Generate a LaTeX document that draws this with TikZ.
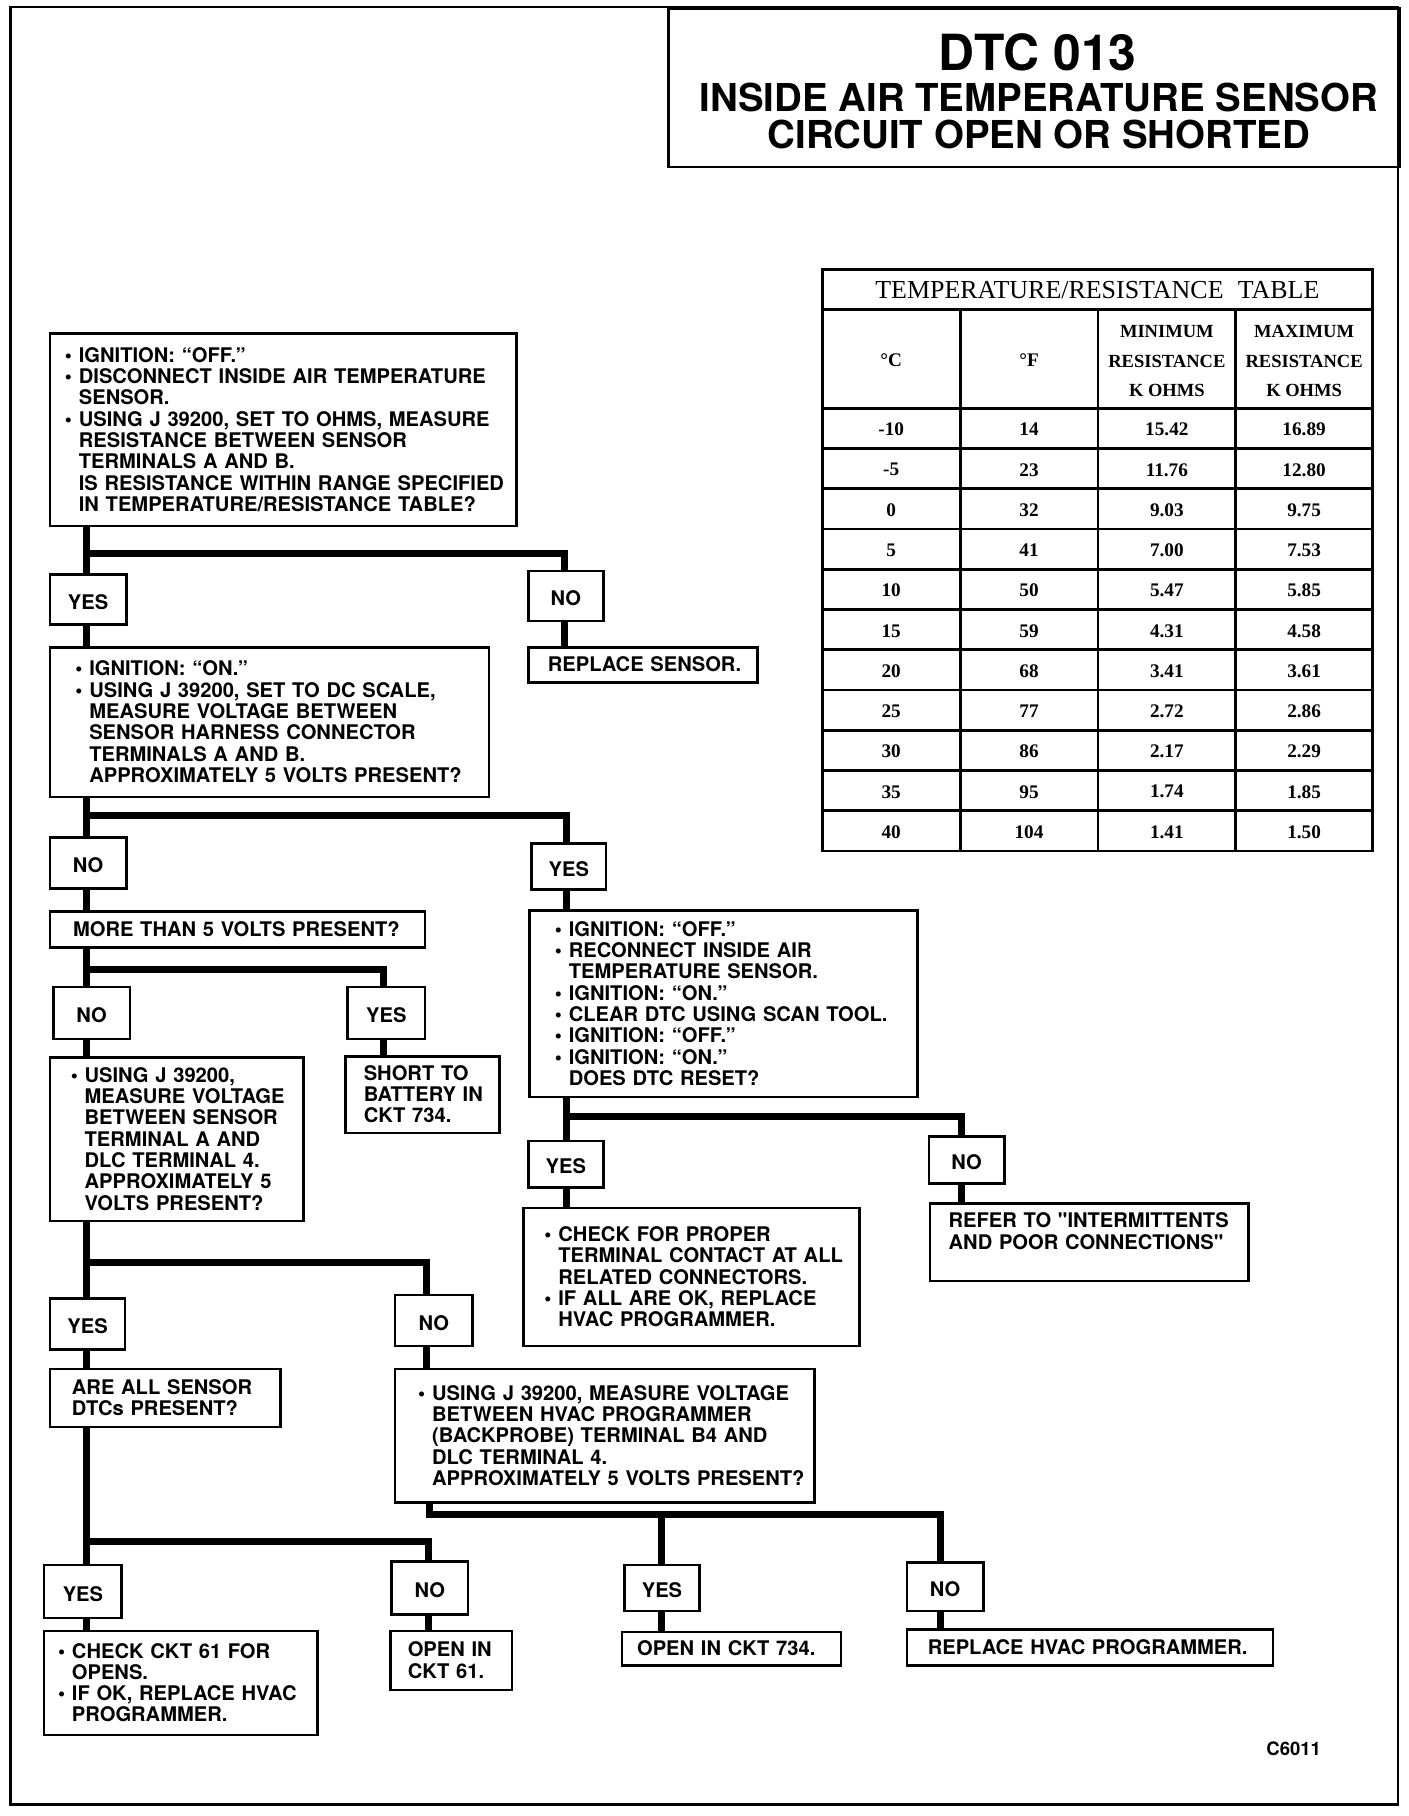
\documentclass[tikz,border=0pt]{standalone}
\usepackage{fontspec}
\newfontfamily\heros{TeX Gyre Heros}
\newfontfamily\serifT{Liberation Serif}
\usetikzlibrary{calc}
\tikzset{
  box/.style={draw, line width=1.1pt, anchor=north west, inner sep=0pt, align=left,
    font=\heros\bfseries\fontsize{8.7pt}{9.2pt}\selectfont},
  ynbox/.style={draw, line width=1.1pt, anchor=north west, inner sep=0pt, align=center,
    font=\heros\bfseries\fontsize{8.7pt}{9.2pt}\selectfont},
  conn/.style={line width=3pt, line join=miter},
  tline/.style={line width=1.2pt},
  tcell/.style={font=\serifT\bfseries\fontsize{8.3pt}{10pt}\selectfont, inner sep=0pt},
  thead/.style={font=\serifT\bfseries\fontsize{8pt}{12.75pt}\selectfont, inner sep=0pt, align=center},
}
\newcommand\bul{\makebox[6pt][l]{\textbullet}}
\newcommand\ind{\hspace*{6pt}}
\newcommand\flowbox[7]{%
  \pgfmathsetlengthmacro\fbw{(#4-#2)*0.5pt}%
  \pgfmathsetlengthmacro\fbh{(#5-#3)*0.5pt}%
  \pgfmathsetlengthmacro\fbi{#6*0.5pt}%
  \node[box, text width=\fbw, minimum height=\fbh] (#1) at (#2,#3)
    {\noindent\raisebox{-1.2pt}[\height][\depth]{\begin{tabular}{@{\hspace{\fbi}}l@{}}#7\end{tabular}}};}
\newcommand\ynb[6]{%
  \pgfmathsetlengthmacro\fbw{(#4-#2)*0.5pt}%
  \pgfmathsetlengthmacro\fbh{(#5-#3)*0.5pt}%
  \node[ynbox, minimum width=\fbw, minimum height=\fbh] (#1) at (#2,#3) {\raisebox{-1pt}[\height][\depth]{#6}};}
\begin{document}
\begin{tikzpicture}[x=0.5pt,y=-0.5pt]
\useasboundingbox (0,0) rectangle (1216,1568);
% page frame and title
\draw[line width=1.2pt] (9,6) rectangle (1207,1558);
\node[draw, line width=1.2pt, anchor=north west, inner sep=0pt, minimum width=315.5pt, minimum height=68.5pt] (titlebox) at (576,6) {};
\node[font=\heros\bfseries\fontsize{21.5pt}{24pt}\selectfont, inner sep=0pt] (t1) at (896,45) {DTC 013};
\node[font=\heros\bfseries\fontsize{16.6pt}{18pt}\selectfont, inner sep=0pt] (t2) at (897,84) {INSIDE AIR TEMPERATURE SENSOR};
\node[font=\heros\bfseries\fontsize{16.6pt}{18pt}\selectfont, inner sep=0pt] (t3) at (897,116) {CIRCUIT OPEN OR SHORTED};

% table
\draw[tline] (710,233) rectangle (1185,734.75);
\draw[tline] (710,267) -- (1185,267);
\foreach \k in {0,...,10} \draw[tline] (710,{352.5+34.75*\k}) -- (1185,{352.5+34.75*\k});
\foreach \xx in {829,948,1067} \draw[tline] (\xx,267) -- (\xx,734.75);
\node[font=\serifT\fontsize{11.2pt}{12pt}\selectfont, inner sep=0pt] (ttitle) at (947.5,250) {TEMPERATURE/RESISTANCE\hspace{0.55em}TABLE};
\node[tcell] (hC) at (769.5,311) {°C};
\node[tcell] (hF) at (888.5,311) {°F};
\node[thead] (hMin) at (1007.5,312) {MINIMUM\\RESISTANCE\\K OHMS};
\node[thead] (hMax) at (1126,312) {MAXIMUM\\RESISTANCE\\K OHMS};
\foreach \cc/\ff/\mn/\mx [count=\i from 0] in {-10/14/15.42/16.89, -5/23/11.76/12.80, 0/32/9.03/9.75, 5/41/7.00/7.53, 10/50/5.47/5.85, 15/59/4.31/4.58, 20/68/3.41/3.61, 25/77/2.72/2.86, 30/86/2.17/2.29, 35/95/1.74/1.85, 40/104/1.41/1.50}{
  \pgfmathsetmacro\yy{352.5+34.75*(\i+0.5)+1}
  \node[tcell] (c\i) at (769.5,\yy) {\cc};
  \node[tcell] (f\i) at (888.5,\yy) {\ff};
  \node[tcell] (mn\i) at (1007.5,\yy) {\mn};
  \node[tcell] (mx\i) at (1126,\yy) {\mx};
}

% flowchart boxes
\flowbox{b1}{42}{287}{445}{453}{13}{\bul IGNITION: “OFF.”\\ \bul DISCONNECT INSIDE AIR TEMPERATURE\\ \ind SENSOR.\\ \bul USING J 39200, SET TO OHMS, MEASURE\\ \ind RESISTANCE BETWEEN SENSOR\\ \ind TERMINALS A AND B.\\ \ind IS RESISTANCE WITHIN RANGE SPECIFIED\\ \ind IN TEMPERATURE/RESISTANCE TABLE?}
\ynb{yes1}{42}{495}{108}{538}{YES}
\ynb{no1}{455}{492}{520}{535}{NO}
\flowbox{rs}{455}{558}{653}{588}{17}{REPLACE SENSOR.}
\flowbox{b2}{42}{558}{421}{687}{22}{\bul IGNITION: “ON.”\\ \bul USING J 39200, SET TO DC SCALE,\\ \ind MEASURE VOLTAGE BETWEEN\\ \ind SENSOR HARNESS CONNECTOR\\ \ind TERMINALS A AND B.\\ \ind APPROXIMATELY 5 VOLTS PRESENT?}
\ynb{no2}{42}{722}{108}{766}{NO}
\ynb{yes2}{458}{727}{522}{767}{YES}
\flowbox{more}{42}{786}{366}{817}{20}{MORE THAN 5 VOLTS PRESENT?}
\ynb{no3}{45}{851}{111}{896}{NO}
\ynb{yes3}{299}{851}{366}{896}{YES}
\flowbox{b3}{42}{912}{261}{1053}{18}{\bul USING J 39200,\\ \ind MEASURE VOLTAGE\\ \ind BETWEEN SENSOR\\ \ind TERMINAL A AND\\ \ind DLC TERMINAL 4.\\ \ind APPROXIMATELY 5\\ \ind VOLTS PRESENT?}
\flowbox{short}{297}{911}{430}{977}{16}{SHORT TO\\ BATTERY IN\\ CKT 734.}
\ynb{yes4}{42}{1120}{107}{1164}{YES}
\ynb{no4}{340}{1117}{407}{1161}{NO}
\flowbox{are}{42}{1181}{241}{1231}{19}{ARE ALL SENSOR\\ DTCs PRESENT?}
\flowbox{b4}{340}{1181}{702}{1296}{20}{\bul USING J 39200, MEASURE VOLTAGE\\ \ind BETWEEN HVAC PROGRAMMER\\ \ind (BACKPROBE) TERMINAL B4 AND\\ \ind DLC TERMINAL 4.\\ \ind APPROXIMATELY 5 VOLTS PRESENT?}
\ynb{yes5}{37}{1350}{104}{1396}{YES}
\ynb{no5}{337}{1347}{403}{1393}{NO}
\flowbox{check}{37}{1407}{273}{1497}{12}{\bul CHECK CKT 61 FOR\\ \ind OPENS.\\ \bul IF OK, REPLACE HVAC\\ \ind PROGRAMMER.}
\flowbox{open61}{336}{1407}{441}{1458}{15}{OPEN IN\\ CKT 61.}
\ynb{yes6}{538}{1350}{603}{1390}{YES}
\ynb{no6}{782}{1348}{848}{1390}{NO}
\flowbox{open734}{536}{1408}{725}{1437}{13}{OPEN IN CKT 734.}
\flowbox{rhp}{782}{1406}{1098}{1437}{18}{REPLACE HVAC PROGRAMMER.}
\flowbox{b5}{456}{785}{791}{946}{22}{\bul IGNITION: “OFF.”\\ \bul RECONNECT INSIDE AIR\\ \ind TEMPERATURE SENSOR.\\ \bul IGNITION: “ON.”\\ \bul CLEAR DTC USING SCAN TOOL.\\ \bul IGNITION: “OFF.”\\ \bul IGNITION: “ON.”\\ \ind DOES DTC RESET?}
\ynb{yes7}{455}{984}{520}{1024}{YES}
\ynb{no7}{801}{980}{866}{1021}{NO}
\flowbox{b6}{451}{1042}{741}{1161}{18}{\bul CHECK FOR PROPER\\ \ind TERMINAL CONTACT AT ALL\\ \ind RELATED CONNECTORS.\\ \bul IF ALL ARE OK, REPLACE\\ \ind HVAC PROGRAMMER.}
\flowbox{refer}{802}{1038}{1077}{1105}{16}{REFER TO "INTERMITTENTS\\ AND POOR CONNECTIONS"\\ ~}
\node[font=\heros\bfseries\fontsize{8pt}{9pt}\selectfont, inner sep=0pt] (code) at (1117,1510) {C6011};

% connectors
\coordinate (j1) at (75,478);  \coordinate (k1) at (487,478);
\draw[conn] (b1.south -| j1) -- (yes1.north -| j1);
\draw[conn] (j1) -- (k1) -- (k1 |- no1.north);
\draw[conn] (yes1.south -| j1) -- (b2.north -| j1);
\draw[conn] (no1.south -| k1) -- (rs.north -| k1);

\coordinate (j2) at (75,704);  \coordinate (k2) at (489,704);
\draw[conn] (b2.south -| j2) -- (no2.north -| j2);
\draw[conn] (j2) -- (k2) -- (k2 |- yes2.north);
\draw[conn] (no2.south -| j2) -- (more.north -| j2);
\draw[conn] (yes2.south -| k2) -- (b5.north -| k2);

\coordinate (j3) at (75,837);  \coordinate (k3) at (331,837);
\draw[conn] (more.south -| j3) -- (no3.north -| j3);
\draw[conn] (j3) -- (k3) -- (k3 |- yes3.north);
\draw[conn] (no3.south -| j3) -- (b3.north -| j3);
\draw[conn] (yes3.south -| k3) -- (short.north -| k3);

\coordinate (j4) at (75,1090); \coordinate (k4) at (368,1090);
\draw[conn] (b3.south -| j4) -- (yes4.north -| j4);
\draw[conn] (j4) -- (k4) -- (k4 |- no4.north);
\draw[conn] (yes4.south -| j4) -- (are.north -| j4);
\draw[conn] (no4.south -| k4) -- (b4.north -| k4);

\coordinate (j5) at (75,1331); \coordinate (k5) at (370,1331);
\draw[conn] (are.south -| j5) -- (yes5.north -| j5);
\draw[conn] (j5) -- (k5) -- (k5 |- no5.north);
\draw[conn] (yes5.south -| j5) -- (check.north -| j5);
\draw[conn] (no5.south -| k5) -- (open61.north -| k5);

\coordinate (j6) at (371,1308); \coordinate (m6) at (571,1308); \coordinate (k6) at (812,1308);
\draw[conn] (b4.south -| j6) -- (j6) -- (k6) -- (k6 |- no6.north);
\draw[conn] (m6) -- (m6 |- yes6.north);
\draw[conn] (yes6.south -| m6) -- (open734.north -| m6);
\draw[conn] (no6.south -| k6) -- (rhp.north -| k6);

\coordinate (j7) at (489,964); \coordinate (k7) at (830,964);
\draw[conn] (b5.south -| j7) -- (yes7.north -| j7);
\draw[conn] (j7) -- (k7) -- (k7 |- no7.north);
\draw[conn] (yes7.south -| j7) -- (b6.north -| j7);
\draw[conn] (no7.south -| k7) -- (refer.north -| k7);
\end{tikzpicture}
\end{document}
